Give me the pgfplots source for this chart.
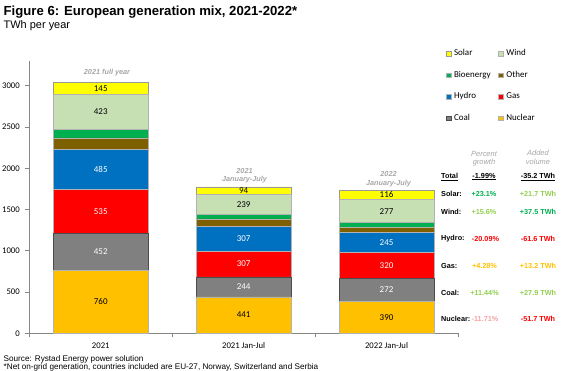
\documentclass[border=0pt]{standalone}
\usepackage{pgfplots}
\usepackage{pgfplotstable}
\pgfplotsset{compat=1.18}
\usepackage{fontspec}
\setmainfont{Liberation Sans}
\newfontfamily\calibri{Carlito}
\definecolor{cSolar}{HTML}{FFFF00}
\definecolor{cWind}{HTML}{C6E0B4}
\definecolor{cBio}{HTML}{00B050}
\definecolor{cOther}{HTML}{7F6000}
\definecolor{cHydro}{HTML}{0070C0}
\definecolor{cGas}{HTML}{FF0000}
\definecolor{cCoal}{HTML}{808080}
\definecolor{cNuc}{HTML}{FFC000}
\definecolor{cAxis}{HTML}{868686}
\definecolor{cNote}{HTML}{A6A6A6}
\definecolor{gGreen}{HTML}{00B050}
\definecolor{lGreen}{HTML}{92D050}
\definecolor{gRed}{HTML}{FF0000}
\definecolor{gGold}{HTML}{FFC000}
\definecolor{gPink}{HTML}{F4A3A3}

\pgfplotstableread{
x nuclear coal gas hydro other bio wind solar
0 760 452 535 485 135 105 423 145
1 441 244 307 307 88 55 239 94
2 390 272 320 245 60 55 277 116
}\mix

\pgfplotstableread{
x y lab
0 380 760
0 2683.5 423
0 2967.5 145
1 220.5 441
1 1561.5 239
1 1728 94
2 195 390
2 1480.5 277
2 1677 116
}\darklabels

\pgfplotstableread{
x y lab
0 986 452
0 1479.5 535
0 1989.5 485
1 563 244
1 838.5 307
1 1145.5 307
2 526 272
2 822 320
2 1104.5 245
}\lightlabels

\pgfplotsset{
  lg/.style={legend image code/.code={\draw[##1, line width=0.3bp] (0bp,-2.4bp) rectangle (4.8bp,2.4bp);}},
  common/.style={
    at={(29.3bp,37.7bp)}, anchor=south west,
    scale only axis, width=428.7bp, height=272.3bp,
    xmin=-0.5, xmax=2.5, ymin=0, ymax=3300,
  }
}

\begin{document}
\begin{tikzpicture}
\path[use as bounding box] (0,0) rectangle (576bp,371bp);
\begin{axis}[
  common,
  ybar stacked, bar width=95bp,
  axis x line=bottom, axis y line=left,
  axis line style={cAxis, line width=0.6bp, -},
  xtick={0,1,2},
  xticklabels={2021, 2021 Jan-Jul, 2022 Jan-Jul},
  minor xtick={-0.5,0.5,1.5,2.5},
  major x tick style={draw=none},
  minor x tick style={cAxis, line width=0.6bp},
  minor tick length=4bp,
  ytick={0,500,...,3000},
  major y tick style={cAxis, line width=0.6bp},
  major tick length=4bp,
  tick align=outside,
  /pgf/number format/assume math mode=true,
  /pgf/number format/1000 sep={},
  tick label style={font=\calibri\fontsize{8.7}{10}\selectfont, text=black},
  yticklabel style={xshift=-2bp},
  xticklabel style={yshift=-2bp},
  legend columns=2,
  reverse legend,
  legend cell align=left,
  legend style={at={(0.971,1.047)}, anchor=north west, draw=none, fill=none,
    inner sep=0pt, font=\calibri\fontsize{9}{10}\selectfont,
    row sep=11bp,
    nodes={inner sep=1bp, text height=6.5bp, text depth=2bp},
    /tikz/every odd column/.append style={column sep=2.2bp},
    /tikz/every even column/.append style={column sep=6.5bp}},
]
\addplot[fill=cNuc, draw=black!30, line width=0.5bp, lg] table[x=x, y=nuclear] {\mix};
\addlegendentry{Nuclear}
\addplot[fill=cCoal, draw=black!70, line width=0.5bp, lg] table[x=x, y=coal] {\mix};
\addlegendentry{Coal}
\addplot[fill=cGas, draw=black!30, line width=0.5bp, lg] table[x=x, y=gas] {\mix};
\addlegendentry{Gas}
\addplot[fill=cHydro, draw=black!30, line width=0.5bp, lg] table[x=x, y=hydro] {\mix};
\addlegendentry{Hydro}
\addplot[fill=cOther, draw=black!30, line width=0.5bp, lg] table[x=x, y=other] {\mix};
\addlegendentry{Other}
\addplot[fill=cBio, draw=black!30, line width=0.5bp, lg] table[x=x, y=bio] {\mix};
\addlegendentry{Bioenergy}
\addplot[fill=cWind, draw=black!30, line width=0.5bp, lg] table[x=x, y=wind] {\mix};
\addlegendentry{Wind}
\addplot[fill=cSolar, draw=black!40, line width=0.5bp, lg] table[x=x, y=solar] {\mix};
\addlegendentry{Solar}
\end{axis}
\begin{axis}[common, hide axis]
\addplot[draw=none, mark=none, nodes near coords, point meta=explicit symbolic,
  every node near coord/.append style={anchor=center, font=\calibri\fontsize{9}{10}\selectfont, text=black}]
  table[x=x, y=y, meta=lab] {\darklabels};
\addplot[draw=none, mark=none, nodes near coords, point meta=explicit symbolic,
  every node near coord/.append style={anchor=center, font=\calibri\fontsize{9}{10}\selectfont, text=white}]
  table[x=x, y=y, meta=lab] {\lightlabels};
\end{axis}

% titles
\node[anchor=base west, inner sep=0pt, font=\bfseries\fontsize{13.2}{14}\selectfont] at (3.5bp,355.3bp) {Figure 6: European generation mix, 2021-2022*};
\node[anchor=base west, inner sep=0pt, font=\fontsize{11}{12}\selectfont] at (3.5bp,342.3bp) {TWh per year};
% footer
\node[anchor=base west, inner sep=0pt, font=\fontsize{8.2}{9}\selectfont] at (3.5bp,10bp) {Source: Rystad Energy power solution};
\node[anchor=base west, inner sep=0pt, font=\fontsize{8.2}{9}\selectfont] at (3.5bp,1.5bp) {*Net on-grid generation, countries included are EU-27, Norway, Switzerland and Serbia};
% bar annotations
\begin{scope}[every node/.style={inner sep=0pt, text=cNote, font=\bfseries\itshape\fontsize{7.3}{8}\selectfont}]
\node at (107bp,298.7bp) {2021 full year};
\node at (244.5bp,200.3bp) {2021};
\node at (244.5bp,191.7bp) {January-July};
\node at (388.5bp,196.7bp) {2022};
\node at (388.5bp,187.7bp) {January-July};
\end{scope}
% table
\begin{scope}[every node/.style={inner sep=0pt, font=\bfseries\fontsize{7.3}{8}\selectfont}]
\node[text=cNote, font=\itshape\fontsize{7.5}{8}\selectfont] at (484bp,217bp) {Percent};
\node[text=cNote, font=\itshape\fontsize{7.5}{8}\selectfont] at (484bp,208bp) {growth};
\node[text=cNote, font=\itshape\fontsize{7.5}{8}\selectfont] at (538bp,218bp) {Added};
\node[text=cNote, font=\itshape\fontsize{7.5}{8}\selectfont] at (538bp,209bp) {volume};
\node[anchor=west] at (441bp,194.3bp) {\underline{Total}};
\node at (484bp,194.3bp) {\underline{-1.99\%}};
\node at (538bp,194.3bp) {\underline{-35.2 TWh}};
\node[anchor=west] at (441bp,177bp) {Solar:};
\node[text=gGreen] at (484bp,177bp) {+23.1\%};
\node[text=lGreen] at (538bp,177bp) {+21.7 TWh};
\node[anchor=west] at (441bp,159.3bp) {Wind:};
\node[text=lGreen] at (484bp,159.3bp) {+15.6\%};
\node[text=gGreen] at (538bp,159.3bp) {+37.5 TWh};
\node[anchor=west] at (441bp,132bp) {Hydro:};
\node[text=gRed] at (485.5bp,132bp) {-20.09\%};
\node[text=gRed] at (538bp,132bp) {-61.6 TWh};
\node[anchor=west] at (441bp,105bp) {Gas:};
\node[text=gGold] at (484.5bp,105bp) {+4.28\%};
\node[text=gGold] at (538bp,105bp) {+13.2 TWh};
\node[anchor=west] at (441bp,78.3bp) {Coal:};
\node[text=lGreen] at (484.5bp,78.3bp) {+11.44\%};
\node[text=lGreen] at (538bp,78.3bp) {+27.9 TWh};
\node[anchor=west] at (441bp,52bp) {Nuclear:};
\node[text=gPink] at (485bp,52bp) {-11.71\%};
\node[text=gRed] at (538bp,52bp) {-51.7 TWh};
\end{scope}
\end{tikzpicture}
\end{document}
